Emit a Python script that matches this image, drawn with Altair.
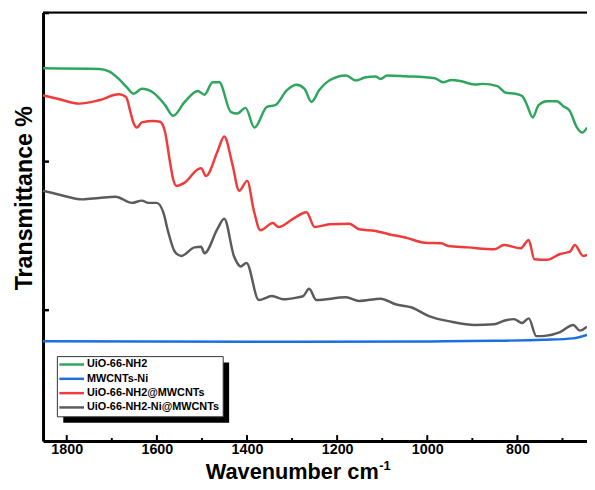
import altair as alt
import pandas as pd

FONT = "Liberation Sans"

series_names = ["UiO-66-NH2", "MWCNTs-Ni", "UiO-66-NH2@MWCNTs", "UiO-66-NH2-Ni@MWCNTs"]
series_colors = ["#2fa65d", "#1c6fe0", "#ef3b3b", "#5b5b5b"]

green_wn = [1852.2, 1728.3, 1706.4, 1684.5, 1667.0, 1651.6, 1633.4, 1607.8, 1582.1, 1563.9,
            1538.3, 1509.1, 1494.5, 1476.3, 1461.6, 1436.2, 1421.5, 1403.3, 1383.6, 1355.7,
            1337.5, 1311.9, 1289.9, 1272.4, 1257.1, 1239.6, 1217.6, 1180.4, 1158.5, 1136.6,
            1114.6, 1103.7, 1088.9, 1048.9, 983.1, 964.9, 946.5, 924.6, 895.5, 877.3,
            844.4, 826.0, 804.1, 789.6, 778.6, 766.1, 753.0, 734.8, 712.9, 698.2,
            683.5, 669.1, 655.9, 645.6]
green_t = [52.56, 52.47, 52.16, 51.14, 50.03, 49.14, 49.81, 49.28, 47.64, 46.18,
           48.04, 49.50, 49.01, 50.70, 50.70, 46.71, 46.48, 47.24, 44.58, 47.38,
           47.60, 49.59, 50.34, 49.81, 48.04, 49.63, 50.92, 51.59, 50.92, 51.36,
           51.46, 51.14, 51.59, 51.49, 51.23, 50.70, 51.00, 50.83, 50.39, 50.47,
           50.17, 49.28, 49.14, 48.84, 47.60, 45.95, 47.60, 48.13, 48.13, 47.47,
           46.80, 44.72, 43.92, 44.58]

blue_wn = [1852.6, 1289.9, 961.2, 851.6, 742.0, 676.2, 645.6]
blue_t = [15.81, 15.75, 15.81, 15.88, 16.01, 16.21, 16.68]

red_wn = [1852.6, 1816.0, 1772.2, 1728.3, 1684.5, 1668.5, 1658.8, 1651.6, 1644.4, 1633.4,
          1607.8, 1593.1, 1582.1, 1571.2, 1563.9, 1556.7, 1538.3, 1509.1, 1501.9, 1490.9,
          1465.3, 1450.6, 1432.4, 1417.6, 1399.6, 1384.9, 1370.4, 1342.6, 1330.1, 1297.2,
          1268.1, 1249.9, 1217.0, 1173.2, 1151.2, 1114.6, 1085.5, 1048.9, 1005.0, 968.5,
          953.9, 910.1, 851.6, 829.7, 793.1, 774.9, 762.4, 734.8, 705.4, 683.5,
          672.5, 654.3, 645.6]
red_t = [48.93, 48.40, 47.81, 48.27, 49.06, 48.70, 46.71, 45.16, 44.58, 45.29,
         45.47, 45.38, 44.05, 40.06, 37.63, 36.74, 37.18, 38.96, 39.10, 38.07,
         41.40, 43.39, 39.63, 36.08, 37.41, 33.42, 30.76, 31.73, 31.20, 32.32,
         33.20, 31.20, 31.56, 31.65, 30.90, 30.67, 30.23, 29.79, 29.08, 29.00,
         28.64, 28.46, 28.20, 28.77, 28.33, 29.44, 26.87, 26.78, 27.57, 27.88,
         28.77, 27.31, 27.44]

gray_wn = [1852.6, 1816.0, 1764.9, 1728.3, 1691.7, 1655.3, 1633.4, 1618.7, 1600.5, 1585.9,
           1574.9, 1560.2, 1545.8, 1516.4, 1501.9, 1494.5, 1465.3, 1450.6, 1428.7, 1421.5,
           1414.3, 1401.1, 1373.9, 1344.8, 1319.1, 1289.9, 1275.3, 1262.2, 1246.1, 1180.4,
           1151.2, 1103.7, 1070.8, 1034.2, 997.8, 946.5, 895.5, 851.6, 829.7, 807.8,
           789.6, 774.9, 758.1, 734.8, 705.4, 676.2, 661.6, 645.6]
gray_t = [36.08, 35.55, 34.92, 35.11, 35.28, 34.45, 34.75, 34.45, 34.45, 33.20,
          30.54, 27.88, 27.31, 28.46, 28.54, 27.67, 30.99, 32.32, 27.22, 26.34,
          25.89, 26.34, 21.37, 21.90, 21.46, 21.69, 21.90, 22.88, 21.37, 21.73,
          21.24, 21.55, 20.80, 20.36, 19.24, 18.45, 18.01, 18.10, 18.58, 18.80,
          18.27, 18.90, 16.51, 16.58, 17.04, 18.01, 17.25, 17.78]

major_ticks = [1800, 1600, 1400, 1200, 1000, 800]
minor_ticks = [1700, 1500, 1300, 1100, 900, 700]
y_ticks = [20, 40, 60]

rows = []
for name, wn, tt in zip(series_names, [green_wn, blue_wn, red_wn, gray_wn],
                        [green_t, blue_t, red_t, gray_t]):
    for i, (w, v) in enumerate(zip(wn, tt)):
        rows.append({"series": name, "wn": w, "T": v, "idx": i})
df = pd.DataFrame(rows)

W, H = 551, 434
xscale = alt.Scale(domain=[645.6, 1852.6], reverse=True, nice=False, zero=False)
yscale = alt.Scale(domain=[2.39, 60.07], nice=False, zero=False)
cscale = alt.Scale(domain=series_names, range=series_colors)

x_axis = alt.Axis(values=major_ticks, format="d", ticks=False, grid=False,
                  domainWidth=3, domainColor="black", labelFont=FONT, labelFontSize=14.5,
                  labelFontWeight="bold", labelColor="black", labelPadding=2, title=None)
y_axis = alt.Axis(values=y_ticks, labels=False, ticks=False, grid=False,
                  domainWidth=3, domainColor="black", title=None)

lines = alt.Chart(df).mark_line(strokeWidth=2.5, interpolate="monotone").encode(
    x=alt.X("wn:Q", scale=xscale, axis=x_axis),
    y=alt.Y("T:Q", scale=yscale, axis=y_axis),
    color=alt.Color("series:N", scale=cscale, legend=None),
    order="idx:Q",
)

major_df = pd.DataFrame({"wn": major_ticks})
minor_df = pd.DataFrame({"wn": minor_ticks})
ytick_df = pd.DataFrame({"T": y_ticks})

major_rules = alt.Chart(major_df).mark_rule(color="black", strokeWidth=2).encode(
    x=alt.X("wn:Q", scale=xscale), y=alt.value(H), y2=alt.value(H - 6))
minor_rules = alt.Chart(minor_df).mark_rule(color="black", strokeWidth=2).encode(
    x=alt.X("wn:Q", scale=xscale), y=alt.value(H), y2=alt.value(H - 3))
y_rules = alt.Chart(ytick_df).mark_rule(color="black", strokeWidth=2.5).encode(
    y=alt.Y("T:Q", scale=yscale), x=alt.value(0), x2=alt.value(6))

one = pd.DataFrame({"a": [0]})
top_rule = alt.Chart(one).mark_rule(color="black", strokeWidth=2).encode(
    x=alt.value(0), x2=alt.value(W), y=alt.value(0))

# custom legend
shadow = alt.Chart(one).mark_rect(color="black").encode(
    x=alt.value(20.5), x2=alt.value(188.5), y=alt.value(354.5), y2=alt.value(415.5))
box = alt.Chart(one).mark_rect(fill="white", stroke="#333333", strokeWidth=1).encode(
    x=alt.value(14.5), x2=alt.value(182.5), y=alt.value(348.5), y2=alt.value(409.5))
row_y = [356.5, 371, 385.5, 400]
legend_layers = []
for name, col, ry in zip(series_names, series_colors, row_y):
    legend_layers.append(
        alt.Chart(one).mark_rule(strokeWidth=2.5, color=col).encode(
            x=alt.value(16.5), x2=alt.value(41.5), y=alt.value(ry)))
    legend_layers.append(
        alt.Chart(one).mark_text(text=name, font=FONT, fontSize=11, fontWeight="bold",
                                 align="left", baseline="middle", color="black").encode(
            x=alt.value(44.5), y=alt.value(ry)))

xtitle = alt.Chart(one).mark_text(text="Wavenumber cm", font=FONT, fontSize=22,
                                  fontWeight="bold", align="right", baseline="alphabetic",
                                  color="black").encode(x=alt.value(340), y=alt.value(472))
xsup = alt.Chart(one).mark_text(text="-1", font=FONT, fontSize=13,
                                fontWeight="bold", align="left", baseline="alphabetic",
                                color="black").encode(x=alt.value(340.5), y=alt.value(463))
ytitle = alt.Chart(one).mark_text(text="Transmittance %", font=FONT, fontSize=23.5,
                                  fontWeight="bold", align="center", baseline="middle",
                                  angle=270, color="black").encode(x=alt.value(-18.5), y=alt.value(188))

chart = alt.layer(lines, shadow, box, *legend_layers, major_rules, minor_rules,
                  y_rules, top_rule, xtitle, xsup, ytitle).properties(
    width=W, height=H,
    autosize=alt.AutoSizeParams(type="none"),
    padding={"left": 35.5, "top": 1.5, "right": 0, "bottom": 46},
).configure_view(stroke="#777777", strokeWidth=1)

chart.save("out.html", embed_options={"renderer": "svg", "actions": False})
